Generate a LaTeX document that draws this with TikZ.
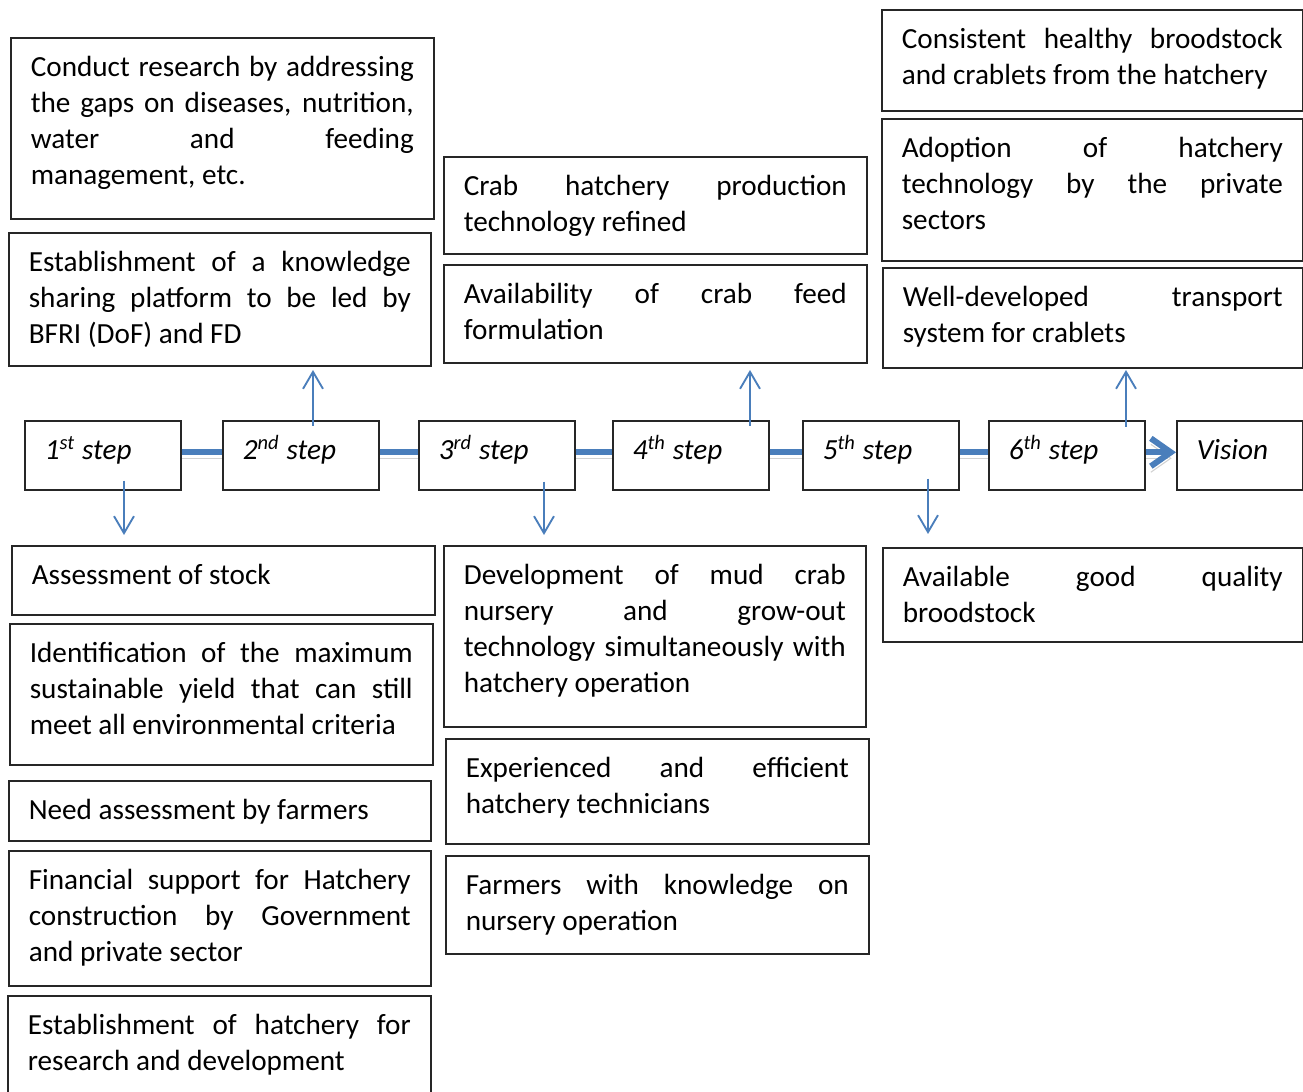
\documentclass[tikz,border=0pt]{standalone}
\usepackage{fontspec}
\setmainfont{Carlito}
\usetikzlibrary{arrows.meta}
\newdimen\pxu \pxu=0.3767pt
\definecolor{linkblue}{HTML}{4A7EBB}
\hyphenpenalty=10000
\exhyphenpenalty=10000
\tolerance=10000
\hbadness=10000
\tikzset{
  box/.style={draw=black!85, line width=0.6pt, anchor=north west, inner xsep=20\pxu, inner ysep=0pt,
    text width=383\pxu, text height=39\pxu, align=justify, font=\fontsize{11pt}{13.56pt}\selectfont},
  stepbox/.style={box, text width=116\pxu, text depth=30\pxu, font=\fontsize{11pt}{13.56pt}\selectfont\itshape},
  link/.style={draw=linkblue, line width=6\pxu, transform canvas={yshift=3\pxu},
    preaction={draw=black, opacity=0.18, transform canvas={yshift=-3\pxu}}},
  thinarrow/.style={draw=linkblue, line width=0.7pt, -{Straight Barb[length=6.4pt, width=7.5pt]}}
}
\begin{document}
\begin{tikzpicture}[x=0.3767pt, y=-0.3767pt]
\useasboundingbox (0,0) rectangle (1303,1092);
\node[stepbox] (S1) at (24,420) {1\textsuperscript{st} step};
\node[stepbox] (S2) at (222,420) {2\textsuperscript{nd} step};
\node[stepbox] (S3) at (418,420) {3\textsuperscript{rd} step};
\node[stepbox] (S4) at (612,420) {4\textsuperscript{th} step};
\node[stepbox] (S5) at (802,420) {5\textsuperscript{th} step};
\node[stepbox] (S6) at (988,420) {6\textsuperscript{th} step};
\node[stepbox, text width=86\pxu] (V) at (1176,420) {Vision};
\draw[link] (S1.east) -- (S2.west);
\draw[link] (S2.east) -- (S3.west);
\draw[link] (S3.east) -- (S4.west);
\draw[link] (S4.east) -- (S5.west);
\draw[link] (S5.east) -- (S6.west);
\draw[link, -{Straight Barb[length=7.5pt, width=10.5pt]}] (S6.east) -- (V.west);
\node[box, text depth=142\pxu] (R1) at (10,37) {Conduct research by addressing\linebreak the gaps on diseases, nutrition,\linebreak water and feeding\linebreak management, etc.};
\node[box, text width=382\pxu, text depth=94\pxu] (R2) at (8,232) {Establishment of a knowledge\linebreak sharing platform to be led by\linebreak BFRI (DoF) and FD};
\node[box, text depth=58\pxu] (M1) at (443,156) {Crab hatchery production\linebreak technology refined};
\node[box, text depth=59\pxu] (M2) at (443,264) {Availability of crab feed\linebreak formulation};
\node[box, text width=381\pxu, text depth=62\pxu] (Q1) at (881,9) {Consistent healthy broodstock\linebreak and crablets from the hatchery};
\node[box, text width=381\pxu, text depth=103\pxu] (Q2) at (881,118) {Adoption of hatchery\linebreak technology by the private\linebreak sectors};
\node[box, text width=380\pxu, text depth=61\pxu] (Q3) at (882,267) {Well-developed transport\linebreak system for crablets};
\node[box, text depth=30\pxu] (L1) at (11,545) {Assessment of stock};
\node[box, text depth=102\pxu] (L2) at (9,623) {Identification of the maximum\linebreak sustainable yield that can still\linebreak meet all environmental criteria};
\node[box, text width=382\pxu, text depth=21\pxu] (L3) at (8,780) {Need assessment by farmers};
\node[box, text width=382\pxu, text depth=96\pxu] (L4) at (8,850) {Financial support for Hatchery\linebreak construction by Government\linebreak and private sector};
\node[box, text depth=71\pxu] (L5) at (7,995) {Establishment of hatchery for\linebreak research and development};
\node[box, text width=382\pxu, text depth=142\pxu] (M3) at (443,545) {Development of mud crab\linebreak nursery and grow-out\linebreak technology simultaneously with\linebreak hatchery operation};
\node[box, text depth=66\pxu] (M4) at (445,738) {Experienced and efficient\linebreak hatchery technicians};
\node[box, text depth=59\pxu] (M5) at (445,855) {Farmers with knowledge on\linebreak nursery operation};
\node[box, text width=380\pxu, text depth=55\pxu] (Q4) at (882,547) {Available good quality\linebreak broodstock};
\coordinate (T2) at (313,370);
\coordinate (T4) at (750,370);
\coordinate (T6) at (1126,370);
\coordinate (B1) at (124,535);
\coordinate (B3) at (544,535);
\coordinate (B5) at (928,534);
\draw[thinarrow] (T2 |- S2.north) ++(0,6) -- (T2);
\draw[thinarrow] (T4 |- S4.north) ++(0,6) -- (T4);
\draw[thinarrow] (T6 |- S6.north) ++(0,7) -- (T6);
\draw[thinarrow] (B1 |- S1.south) ++(0,-10) -- (B1);
\draw[thinarrow] (B3 |- S3.south) ++(0,-9) -- (B3);
\draw[thinarrow] (B5 |- S5.south) ++(0,-12) -- (B5);
\end{tikzpicture}
\end{document}
